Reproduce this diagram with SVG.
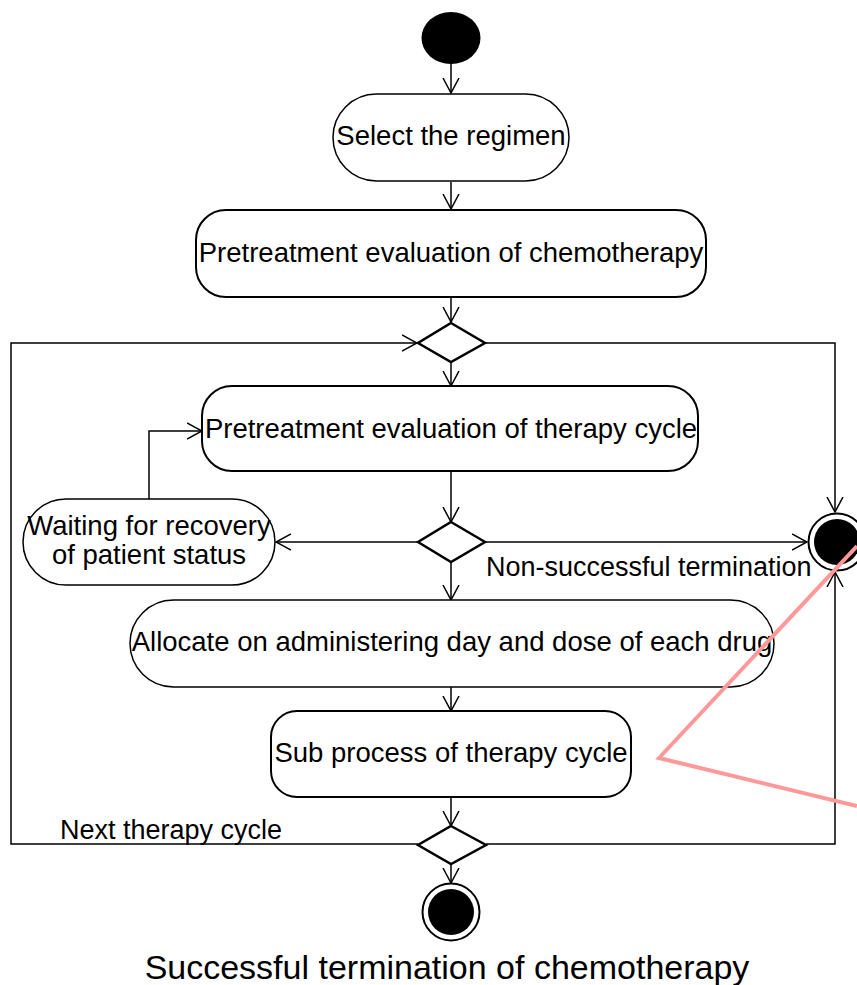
<svg xmlns="http://www.w3.org/2000/svg" width="857" height="985" viewBox="0 0 857 985">
  <style>
    .node { fill: #ffffff; stroke: #000000; stroke-width: 2; }
    .thin { fill: #ffffff; stroke: #000000; stroke-width: 1.5; }
    .dec { fill: #ffffff; stroke: #000000; stroke-width: 2.5; }
    .edge { fill: none; stroke: #000000; stroke-width: 1.5; }
    .lbl { font-family: "Liberation Sans", Arial, sans-serif; font-size: 27.5px; fill: #000000; text-anchor: middle; }
    .free { font-family: "Liberation Sans", Arial, sans-serif; font-size: 27px; fill: #000000; }
  </style>
  <defs>
    <marker id="open" viewBox="0 0 16 18" refX="15" refY="9" markerWidth="16" markerHeight="18" markerUnits="userSpaceOnUse" orient="auto">
      <path d="M0,1 L15,9 L0,17" fill="none" stroke="#000000" stroke-width="1.5"/>
    </marker>
  </defs>
  <rect width="857" height="985" fill="#ffffff"/>

  <!-- connectors -->
  <g id="connectors">
    <line class="edge" x1="451" y1="63" x2="451" y2="93" marker-end="url(#open)"/>
    <line class="edge" x1="451" y1="182" x2="451" y2="209" marker-end="url(#open)"/>
    <line class="edge" x1="451" y1="297" x2="451" y2="322" marker-end="url(#open)"/>
    <line class="edge" x1="451" y1="362" x2="451" y2="386" marker-end="url(#open)"/>
    <line class="edge" x1="451" y1="471" x2="451" y2="522" marker-end="url(#open)"/>
    <line class="edge" x1="418" y1="542" x2="276" y2="542" marker-end="url(#open)"/>
    <polyline class="edge" points="149,499 149,431 202,431" marker-end="url(#open)"/>
    <line class="edge" x1="485" y1="542" x2="807" y2="542" marker-end="url(#open)"/>
    <line class="edge" x1="451" y1="562" x2="451" y2="600" marker-end="url(#open)"/>
    <line class="edge" x1="451" y1="687" x2="451" y2="711" marker-end="url(#open)"/>
    <line class="edge" x1="451" y1="797" x2="451" y2="826" marker-end="url(#open)"/>
    <line class="edge" x1="451" y1="864" x2="451" y2="883" marker-end="url(#open)"/>
    <!-- loop back to the cycle merge -->
    <polyline class="edge" points="418,844 11,844 11,343 417,343" marker-end="url(#open)"/>
    <!-- right-hand branches to the non-successful end -->
    <polyline class="edge" points="485,343 835,343 835,512" marker-end="url(#open)"/>
    <polyline class="edge" points="486,844 835,844 835,572" marker-end="url(#open)"/>
    <text class="free" x="486" y="576">Non-successful termination</text>
    <text class="free" x="60" y="839">Next therapy cycle</text>
  </g>

  <g id="start">
    <ellipse cx="451" cy="38" rx="29.5" ry="26" fill="#000000"/>
  </g>

  <g id="select-regimen">
    <rect class="thin" x="333" y="94" width="236" height="87" rx="43.5"/>
    <text class="lbl" x="451" y="145">Select the regimen</text>
  </g>

  <g id="chemo-evaluation">
    <rect class="node" x="196" y="210" width="510" height="87" rx="30"/>
    <text class="lbl" x="451" y="262">Pretreatment evaluation of chemotherapy</text>
  </g>

  <g id="cycle-merge">
    <polygon class="dec" points="451,323 485,343 451,362 418,343"/>
  </g>

  <g id="cycle-evaluation">
    <rect class="node" x="202" y="386" width="496" height="85" rx="30"/>
    <text class="lbl" x="451" y="438">Pretreatment evaluation of therapy cycle</text>
  </g>

  <g id="status-decision">
    <polygon class="dec" points="451,522 485,542 451,562 418,542"/>
  </g>

  <g id="waiting-recovery">
    <rect class="thin" x="23" y="499" width="252" height="86" rx="43"/>
    <text class="lbl" x="149" y="535">Waiting for recovery</text>
    <text class="lbl" x="149" y="564">of patient status</text>
  </g>

  <g id="non-successful-end">
    <circle cx="837" cy="542" r="28.5" fill="#ffffff" stroke="#000000" stroke-width="2"/>
    <circle cx="837" cy="542" r="23" fill="#000000"/>
  </g>

  <g id="allocate-dose">
    <rect class="thin" x="130" y="600" width="644" height="87" rx="43.5"/>
    <text class="lbl" x="452" y="651">Allocate on administering day and dose of each drug</text>
  </g>

  <g id="sub-process">
    <rect class="node" x="271" y="711" width="360" height="86" rx="26"/>
    <text class="lbl" x="451" y="762">Sub process of therapy cycle</text>
  </g>

  <g id="cycle-decision">
    <polygon class="dec" points="451,826 486,845 451,864 418,845"/>
  </g>

  <g id="successful-end">
    <circle cx="451" cy="912" r="28.5" fill="#ffffff" stroke="#000000" stroke-width="2"/>
    <circle cx="451" cy="912" r="23" fill="#000000"/>
    <text class="lbl" x="447" y="979" style="font-size:34px">Successful termination of chemotherapy</text>
  </g>

  <!-- pen annotation -->
  <polyline points="857,546 659,758 857,806" fill="none" stroke="#ff9999" stroke-width="4"/>
</svg>
